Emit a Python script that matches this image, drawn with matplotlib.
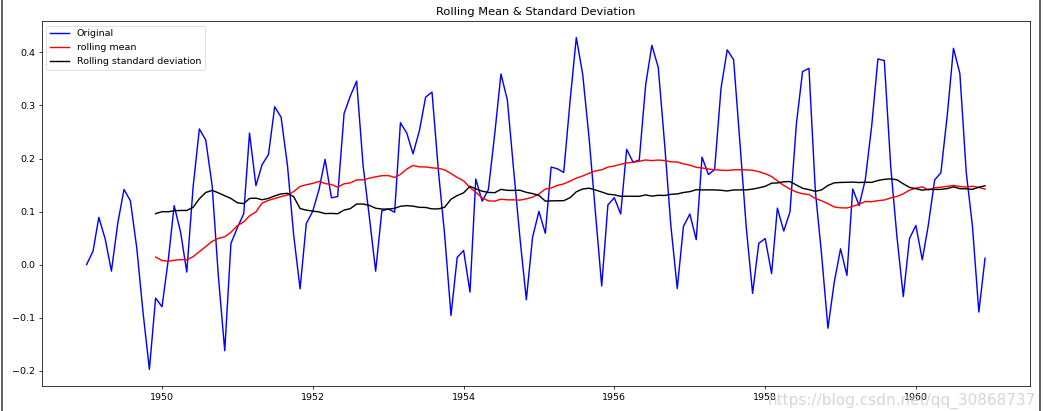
import numpy as np
import pandas as pd
import matplotlib
matplotlib.use("Agg")
import matplotlib.pyplot as plt
from matplotlib.lines import Line2D

# Monthly airline passengers 1949-1960 (underlying data of the chart)
passengers = [
    112, 118, 132, 129, 121, 135, 148, 148, 136, 119, 104, 118,
    115, 126, 141, 135, 125, 149, 170, 170, 158, 133, 114, 140,
    145, 150, 178, 163, 172, 178, 199, 199, 184, 162, 146, 166,
    171, 180, 193, 181, 183, 218, 230, 242, 209, 191, 172, 194,
    196, 196, 236, 235, 229, 243, 264, 272, 237, 211, 180, 201,
    204, 188, 235, 227, 234, 264, 302, 293, 259, 229, 203, 229,
    242, 233, 267, 269, 270, 315, 364, 347, 312, 274, 237, 278,
    284, 277, 317, 313, 318, 374, 413, 405, 355, 306, 271, 306,
    315, 301, 356, 348, 355, 422, 465, 467, 404, 347, 305, 336,
    340, 318, 362, 348, 363, 435, 491, 505, 404, 359, 310, 337,
    360, 342, 406, 396, 420, 472, 548, 559, 463, 407, 362, 405,
    417, 391, 419, 461, 472, 535, 622, 606, 508, 461, 390, 432,
]
dates = pd.date_range("1949-01-01", periods=len(passengers), freq="MS")

ts_log = np.log(pd.Series(passengers, index=dates, dtype=float))
original = ts_log - ts_log.ewm(halflife=12).mean()
rolmean = original.rolling(window=12).mean()
rolstd = original.rolling(window=12).std()

s = 0.68  # screenshot scale
plt.rcParams.update({
    "axes.linewidth": 0.8 * s,
    "xtick.major.width": 0.8 * s,
    "ytick.major.width": 0.8 * s,
    "xtick.major.size": 3.5 * s,
    "ytick.major.size": 3.5 * s,
    "xtick.major.pad": 3.5 * s,
    "ytick.major.pad": 3.5 * s,
    "legend.frameon": True,
})

fig = plt.figure(figsize=(10.43, 4.11), dpi=100)
ax = fig.add_axes([0.040, 0.061, 0.9475, 0.888])
lw = 1.5 * s
ax.plot(original.index, original.values, color="blue", lw=lw, label="Original")
ax.plot(rolmean.index, rolmean.values, color="red", lw=lw, label="rolling mean")
ax.plot(rolstd.index, rolstd.values, color="black", lw=lw, label="Rolling standard deviation")
leg = ax.legend(loc="upper left", fontsize=10 * s, borderaxespad=0.5, handlelength=2.0)
leg.get_frame().set_linewidth(0.8 * s)
ax.set_title("Rolling Mean & Standard Deviation", fontsize=12 * s, pad=6 * s)
ax.tick_params(labelsize=10 * s)

# screenshot frame edges and watermark
fig.add_artist(Line2D([0.0015, 0.0015], [0, 1], transform=fig.transFigure, color="#444444", lw=1.2))
fig.add_artist(Line2D([0.997, 0.997], [0, 1], transform=fig.transFigure, color="#444444", lw=1.2))
fig.text(0.993, 0.005, "https://blog.csdn.net/qq_30868737", ha="right", va="bottom",
         fontsize=11, color="#cccccc", alpha=0.8)

fig.savefig("out.png", dpi=100)
